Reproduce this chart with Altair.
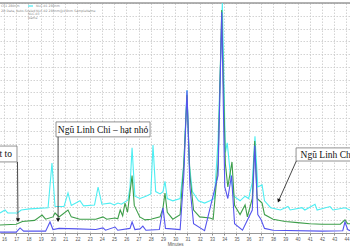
import altair as alt
import pandas as pd

# ---- chromatogram traces (minutes, intensity) ----
cyan_t = [15.67,16.08,16.3,17.1,17.4,18.1,19.6,19.92,20.17,20.9,21.23,21.5,22.21,22.5,23.4,23.69,24.0,24.67,25.0,25.32,25.6,26.14,26.3,26.47,26.7,27.12,27.6,28.0,28.18,28.4,28.76,29.0,29.16,29.35,29.8,30.4,30.7,30.96,31.15,31.4,31.9,32.4,32.84,33.2,33.5,33.85,34.1,34.25,34.5,34.8,35.3,35.71,36.0,36.3,36.52,36.75,37.1,37.3,37.8,38.6,39.22,39.4,40.37,40.6,41.43,41.6,42.66,42.9,43.88,44.29]
cyan_v = [87,100,87,87,100,105,110,304,115,115,174,120,140,118,122,200,125,130,122,130,125,144,200,370,160,150,160,170,383,180,170,180,225,150,140,150,300,622,300,180,140,130,140,150,400,1000,350,392,260,160,140,160,150,220,420,200,209,140,110,100,115,100,110,100,125,100,115,100,110,100]

green_t = [15.67,17.0,17.5,18.5,19.11,19.4,20.0,20.17,20.5,21.23,21.5,22.2,23.5,24.09,24.4,25.08,25.3,25.5,25.7,25.89,26.1,26.47,26.65,27.1,27.53,28.0,28.76,29.0,29.16,29.35,29.8,30.4,30.7,30.96,31.2,31.5,32.0,32.84,33.1,33.5,33.8,34.1,34.3,34.64,34.85,35.3,35.71,35.9,36.3,36.5,36.7,37.1,37.3,38.0,39.0,40.0,41.0,42.0,43.5,43.88,44.1,44.29]
green_v = [35,38,50,55,78,60,70,87,70,100,70,60,60,70,60,65,62,100,75,130,90,250,120,70,57,60,70,109,174,90,60,80,300,600,250,100,70,65,60,300,970,300,200,309,120,80,122,70,150,400,150,130,80,60,50,45,40,38,38,57,40,40]

blue_t = [15.67,17.0,17.31,17.6,19.4,19.76,20.0,20.5,22.0,23.5,24.09,24.3,25.08,25.3,26.3,26.47,26.7,27.12,27.35,27.6,28.7,29.0,29.2,30.4,30.7,30.96,31.2,31.5,32.4,33.5,33.8,34.05,34.3,34.6,34.85,35.5,36.3,36.5,36.75,37.0,37.3,38.0,42.0,43.7,43.88,44.1,44.29]
blue_v = [4,4,22,8,8,48,15,20,18,15,22,12,26,12,20,48,15,18,30,12,15,109,20,15,250,620,200,40,10,250,960,200,150,250,40,12,100,380,80,60,20,12,8,10,48,15,10]

# ---- axis ticks ----
x_ticks = list(range(16, 45))
y_grid = [round(i * 1000 / 18, 2) for i in range(19)]

# ---- annotations ----
box_labels = ["Ngũ Linh Chi – hạt to", "Ngũ Linh Chi – hạt nhỏ", "Ngũ Linh Chi – hạt vừa"]
box_t = [14.0, 20.25, 39.88]
box_t2 = [17.06, 27.94, 46.0]
box_v = [378, 483, 370]
box_v2 = [309, 418, 313]
label_t = [16.65, 24.1, 40.25]
label_v = [342, 450, 341]
label_align = ["right", "center", "left"]
arrow_t = [17.1, 20.42, 39.9]
arrow_v = [309, 418, 313]
arrow_t2 = [17.14, 20.42, 38.45]
arrow_v2 = [56, 56, 140]
arrow_angle = [0, 0, 22]

xs = alt.Scale(domain=[15.67, 44.29], nice=False, zero=False)
ys = alt.Scale(domain=[0, 1000], nice=False, zero=False)
xaxis = alt.Axis(values=x_ticks, format="d", labelFontSize=4.5, labelColor="#555",
                 tickColor="#888", tickSize=2, domainColor="#999", grid=True,
                 gridColor="#c8c8c8", gridDash=[1.5, 1.5], gridWidth=0.8,
                 title="Minutes", titleFontSize=4.5, titleFontWeight="normal",
                 titleColor="#555", titlePadding=1, labelPadding=1, labelFlush=False)
yaxis = alt.Axis(values=y_grid, labels=False, ticks=False, domain=False, title=None,
                 grid=True, gridColor="#c8c8c8", gridDash=[1.5, 1.5], gridWidth=0.8)
X = alt.X("t:Q", scale=xs, axis=xaxis)
Y = alt.Y("v:Q", scale=ys, axis=yaxis)


def trace(t, v, color):
    df = pd.DataFrame({"t": t, "v": v})
    return alt.Chart(df).mark_line(color=color, strokeWidth=1.1, clip=True).encode(x=X, y=Y)


cyan = trace(cyan_t, cyan_v, "#4DEEF2")
green = trace(green_t, green_v, "#3E9E4A")
blue = trace(blue_t, blue_v, "#5555EE")

top = alt.Chart(pd.DataFrame({"v": [1000]})).mark_rule(color="#999", strokeWidth=1.5).encode(y=Y)

boxes_df = pd.DataFrame({"t": box_t, "t2": box_t2, "v": box_v, "v2": box_v2})
boxes = alt.Chart(boxes_df).mark_rect(fill="white", stroke="#777", strokeWidth=0.8, clip=True).encode(
    x=X, x2="t2:Q", y=Y, y2="v2:Q")

labels = []
for i in range(3):
    d = pd.DataFrame({"t": [label_t[i]], "v": [label_v[i]], "txt": [box_labels[i]]})
    labels.append(alt.Chart(d).mark_text(font="Liberation Serif", fontSize=9.5, color="#111",
                                         align=label_align[i], baseline="middle", clip=True)
                  .encode(x=X, y=Y, text="txt:N"))

arr_df = pd.DataFrame({"t": arrow_t, "v": arrow_v, "t2": arrow_t2, "v2": arrow_v2})
arr_lines = alt.Chart(arr_df).mark_rule(color="#333", strokeWidth=0.9).encode(x=X, y=Y, x2="t2:Q", y2="v2:Q")
heads = []
for i in range(3):
    d = pd.DataFrame({"t": [arrow_t2[i]], "v": [arrow_v2[i]]})
    heads.append(alt.Chart(d).mark_point(shape="triangle-down", filled=True, color="#111",
                                         size=18, opacity=1, angle=arrow_angle[i])
                 .encode(x=X, y=Y))

# tiny header legend text (instrument style)
legend_items = [
    (1, 3, "Ch1 280nm"),
    (1, 8, "2D Data, Auto-Scaled"),
    (36, 3, "NLC-01  280nm"),
    (36, 8, "NLC-02  280nm@4.8nm  SampleName"),
    (28, 11, "NLC-03"),
    (28, 14.5, "Name"),
]
legend_layers = []
for (px, py, s) in legend_items:
    legend_layers.append(alt.Chart(pd.DataFrame({"txt": [s]})).mark_text(
        fontSize=3.2, color="#888", align="left", baseline="middle", font="DejaVu Sans")
        .encode(x=alt.value(px), y=alt.value(py), text="txt:N"))
marker = alt.Chart(pd.DataFrame({"a": [0]})).mark_rule(color="#45EAF0", strokeWidth=1.2).encode(
    x=alt.value(28), x2=alt.value(33), y=alt.value(3))

chart = alt.layer(top, cyan, green, blue, boxes, *labels, arr_lines, *heads, *legend_layers, marker).properties(
    width=350, height=230,
    autosize=alt.AutoSizeParams(type="none"),
    padding={"left": 0, "top": 3, "right": 0, "bottom": 17},
    background="white",
).configure_view(stroke=None)

chart.save("out.html", embed_options={"renderer": "svg", "actions": False})
